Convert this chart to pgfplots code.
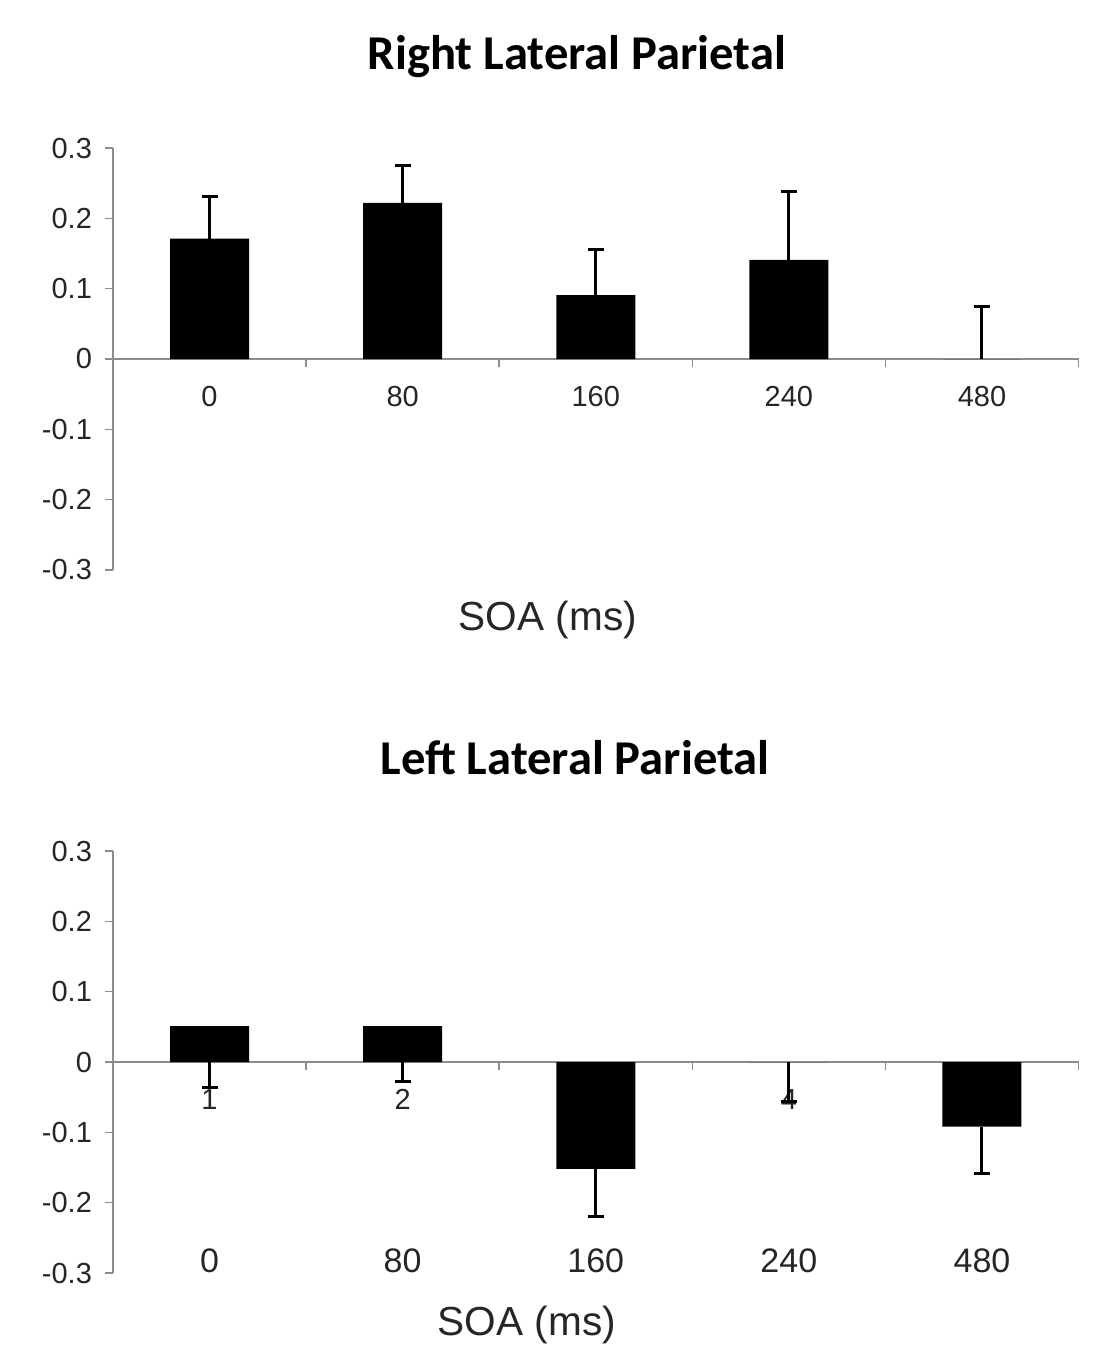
\documentclass[border=0pt]{standalone}
\usepackage{pgfplots}
\pgfplotsset{compat=1.18}
\usepackage{fontspec}
\setmainfont{Liberation Sans}
\newfontfamily\titlefont{Carlito}
\definecolor{axgray}{HTML}{8C8C8C}
\definecolor{txt}{HTML}{262626}
\pgfplotsset{
  panel/.style={
    scale only axis,
    width=482.75pt, height=211pt,
    xmin=-0.5, xmax=4.5, ymin=-0.3, ymax=0.3,
    axis y line=left, axis x line=middle,
    axis line style={-, draw=axgray, line width=1pt},
    ytick={-0.3,-0.2,-0.1,0,0.1,0.2,0.3},
    yticklabels={-0.3,-0.2,-0.1,0,0.1,0.2,0.3},
    xtick={0,1,2,3,4},
    minor xtick={0.5,1.5,2.5,3.5,4.5},
    major x tick style={draw=none},
    minor x tick style={draw=axgray, line width=0.8pt},
    y tick style={draw=axgray, line width=0.8pt},
    tick align=outside,
    major tick length=4pt, minor tick length=4pt,
    ticklabel style={font=\fontsize{14.5}{16}\selectfont, text=txt},
    yticklabel style={xshift=-3pt},
    xticklabel style={yshift=-6pt},
    ybar, bar width=39.5pt,
    error bars/y explicit,
    error bars/error bar style={line width=1.5pt, black},
    error bars/error mark options={line width=1.5pt, mark size=4pt, black, rotate=90},
    clip=false,
  }
}
\begin{document}
\begin{tikzpicture}
\path[use as bounding box] (0,0) rectangle (548pt,-674.5pt);
% top panel
\begin{axis}[panel, at={(56.5pt,-285pt)}, anchor=south west,
  xticklabels={0,80,160,240,480},
  error bars/y dir=plus]
\addplot[fill=black, draw=none] coordinates {
  (0,0.171) +- (0,0.060)
  (1,0.222) +- (0,0.053)
  (2,0.091) +- (0,0.064)
  (3,0.141) +- (0,0.097)
  (4,0.000) +- (0,0.074)
};
\end{axis}
% bottom panel
\begin{axis}[panel, at={(56.5pt,-636.5pt)}, anchor=south west,
  xticklabels={1,2,,4,},
  error bars/y dir=minus]
\addplot[fill=black, draw=none] coordinates {
  (0,0.051) +- (0,0.087)
  (1,0.051) +- (0,0.079)
  (2,-0.152) +- (0,0.067)
  (3,0.000) +- (0,0.056)
  (4,-0.092) +- (0,0.066)
};
\foreach \i/\lab in {0/0,1/80,2/160,3/240,4/480}{
  \edef\tmp{\noexpand\node[font=\noexpand\fontsize{17}{20}\noexpand\selectfont, text=txt] at (axis cs:\i,-0.282) {\lab};}\tmp
}
\end{axis}
\node[font=\fontsize{20.3}{24}\selectfont, text=txt] at (274pt,-310pt) {SOA (ms)};
\node[font=\fontsize{20.3}{24}\selectfont, text=txt] at (263.5pt,-662.5pt) {SOA (ms)};
\node[font=\titlefont\bfseries\fontsize{24.3}{28}\selectfont] at (288.5pt,-28.5pt) {Right Lateral Parietal};
\node[font=\titlefont\bfseries\fontsize{24.3}{28}\selectfont] at (287.5pt,-379pt) {Left Lateral Parietal};
\end{tikzpicture}
\end{document}
